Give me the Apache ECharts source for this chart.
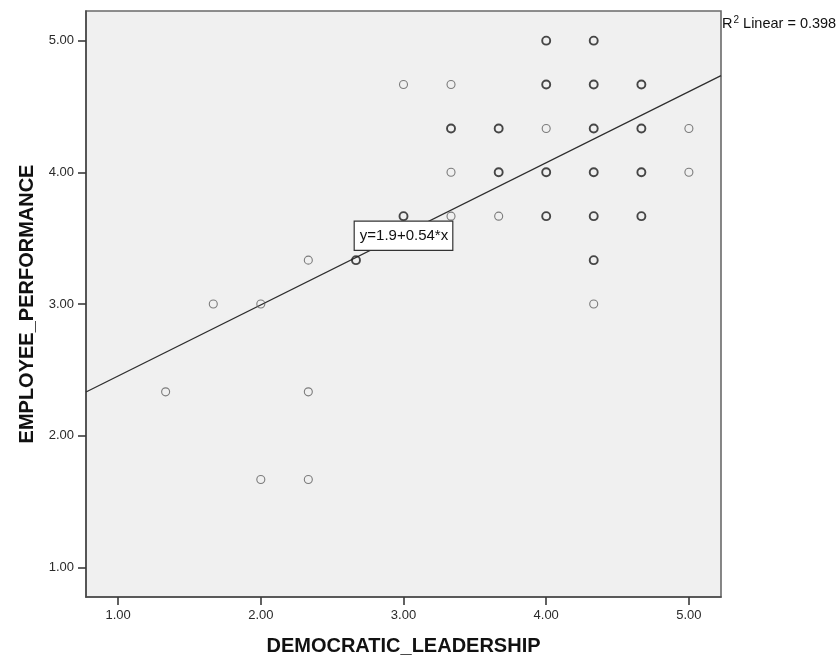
<!DOCTYPE html>
<html>
<head>
<meta charset="utf-8">
<title>Employee performance vs democratic leadership</title>
<script src="https://cdn.jsdelivr.net/npm/echarts@6/dist/echarts.min.js"></script>
<style>
  html, body { margin: 0; padding: 0; background: #ffffff; }
  #chart { width: 838px; height: 661px; }
</style>
</head>
<body>
<div id="chart"></div>
<script>
// Observed cases: leadership score, performance score, number of cases at that spot
const leadershipScores = [1.333, 1.667, 2.000, 2.000, 2.333, 2.333, 2.333, 2.667,
  3.000, 3.000, 3.333, 3.333, 3.333, 3.333, 3.667, 3.667, 3.667,
  4.000, 4.000, 4.000, 4.000, 4.000,
  4.333, 4.333, 4.333, 4.333, 4.333, 4.333, 4.333,
  4.667, 4.667, 4.667, 4.667, 5.000, 5.000];
const performanceScores = [2.333, 3.000, 3.000, 1.667, 3.333, 2.333, 1.667, 3.333,
  4.667, 3.667, 4.667, 4.333, 4.000, 3.667, 4.333, 4.000, 3.667,
  5.000, 4.667, 4.333, 4.000, 3.667,
  5.000, 4.667, 4.333, 4.000, 3.667, 3.333, 3.000,
  4.667, 4.333, 4.000, 3.667, 4.333, 4.000];
const caseCounts = [1, 1, 1, 1, 1, 1, 1, 2,
  1, 2, 1, 2, 1, 1, 2, 2, 1,
  2, 2, 1, 2, 2,
  2, 2, 2, 2, 2, 2, 1,
  2, 2, 2, 2, 1, 1];

// Tick labels shared by both axes
const tickValues = [1, 2, 3, 4, 5];

// Linear fit
const fitIntercept = 1.913;
const fitSlope = 0.540;
const fitR2 = 0.398;

const axisMin = 0.775;
const axisMax = 5.225;

const FONT = "Arial, 'Liberation Sans', sans-serif";

const points = leadershipScores.map((x, i) => {
  const many = caseCounts[i] > 1;
  return {
    value: [x, performanceScores[i], caseCounts[i]],
    itemStyle: {
      color: 'rgba(0,0,0,0)',
      borderColor: many ? '#1c1c1c' : '#5e5e5e',
      borderWidth: many ? 1.9 : 1.1
    }
  };
});

const fitAt = x => fitIntercept + fitSlope * x;
const fitLine = [[axisMin, fitAt(axisMin)], [axisMax, fitAt(axisMax)]];
const equationX = 3.0;
const equationText = 'y=' + fitIntercept.toFixed(1) + '+' + fitSlope.toFixed(2) + '*x';

function makeAxis(name, isX) {
  return {
    type: 'value',
    min: axisMin,
    max: axisMax,
    name: name,
    nameLocation: 'middle',
    nameGap: isX ? 39 : 49,
    nameTextStyle: { fontFamily: FONT, fontSize: 20, fontWeight: 'bold', color: '#111' },
    axisLine: { show: true, onZero: false, lineStyle: { color: '#4a4a4a', width: 1.6 } },
    axisTick: { show: true, length: 8, customValues: tickValues, lineStyle: { color: '#3a3a3a', width: 1.6 } },
    axisLabel: {
      customValues: tickValues,
      margin: 12,
      fontFamily: FONT,
      fontSize: 13,
      color: '#2a2a2a',
      formatter: v => Number(v).toFixed(2)
    },
    splitLine: { show: false }
  };
}

const chart = echarts.init(document.getElementById('chart'), null, { renderer: 'canvas' });
chart.setOption({
  animation: false,
  backgroundColor: '#ffffff',
  grid: {
    left: 86, right: 117, top: 11, bottom: 64,
    show: true,
    backgroundColor: '#f0f0f0',
    borderColor: '#6a6a6a',
    borderWidth: 1.6
  },
  xAxis: makeAxis('DEMOCRATIC_LEADERSHIP', true),
  yAxis: makeAxis('EMPLOYEE_PERFORMANCE', false),
  graphic: [{
    type: 'text',
    left: 722,
    top: 15,
    style: {
      text: '{r|R}{s|2}{r| Linear = ' + fitR2.toFixed(3) + '}',
      rich: {
        r: { fontFamily: FONT, fontSize: 14.5, fill: '#111', verticalAlign: 'bottom', lineHeight: 16 },
        s: { fontFamily: FONT, fontSize: 10, fill: '#111', verticalAlign: 'top', lineHeight: 16, padding: [0, 0, 6, 1] }
      }
    }
  }],
  series: [
    {
      type: 'line',
      data: fitLine,
      symbol: 'none',
      silent: true,
      z: 2,
      lineStyle: { color: '#2e2e2e', width: 1.3 },
      markPoint: {
        symbol: 'rect',
        symbolSize: 0,
        silent: true,
        data: [{ coord: [equationX, fitAt(equationX)] }],
        label: {
          show: true,
          position: 'inside',
          offset: [0, 2],
          formatter: equationText,
          fontFamily: FONT,
          fontSize: 15,
          lineHeight: 18,
          color: '#111',
          backgroundColor: '#ffffff',
          borderColor: '#333333',
          borderWidth: 1.2,
          padding: [5, 4, 5, 5]
        }
      }
    },
    {
      type: 'scatter',
      data: points,
      symbol: 'circle',
      symbolSize: 8,
      z: 3
    }
  ]
});
</script>
</body>
</html>
